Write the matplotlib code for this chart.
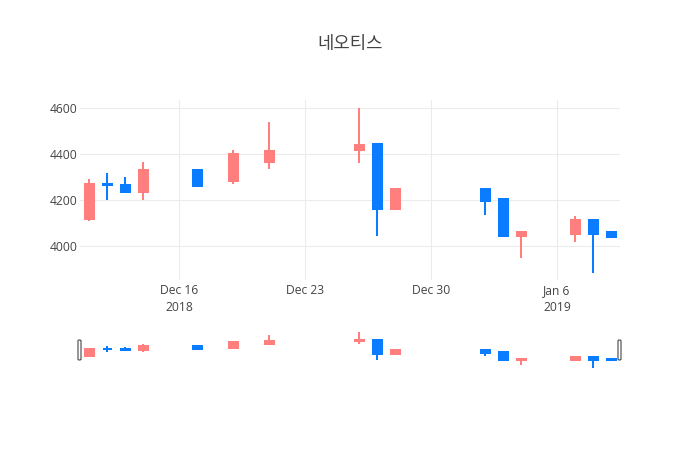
import matplotlib
matplotlib.use("Agg")
import matplotlib.pyplot as plt
import matplotlib.dates as mdates
from matplotlib.patches import FancyBboxPatch
import numpy as np
import pandas as pd

# ---- data ----
dates = ['2018-12-11', '2018-12-12', '2018-12-13', '2018-12-14', '2018-12-17',
         '2018-12-19', '2018-12-21', '2018-12-26', '2018-12-27', '2018-12-28',
         '2019-01-02', '2019-01-03', '2019-01-04', '2019-01-07', '2019-01-08',
         '2019-01-09']
opens = [4120, 4270, 4265, 4235, 4330, 4285, 4365, 4420, 4445, 4160,
         4250, 4205, 4045, 4055, 4115, 4060]
highs = [4290, 4320, 4300, 4365, 4330, 4420, 4540, 4600, 4445, 4255,
         4250, 4205, 4060, 4130, 4115, 4060]
lows = [4110, 4200, 4235, 4200, 4260, 4270, 4335, 4360, 4045, 4160,
        4135, 4045, 3950, 4020, 3885, 4040]
closes = [4270, 4265, 4235, 4330, 4260, 4400, 4415, 4440, 4160, 4250,
          4195, 4045, 4060, 4115, 4055, 4040]
title = "네오티스"
tick_dates = ['2018-12-16', '2018-12-23', '2018-12-30', '2019-01-06']
tick_labels = ['Dec 16\n2018', 'Dec 23', 'Dec 30', 'Jan 6\n2019']

UP = '#FF7F7F'
DOWN = '#0A7CFF'
TXT = '#444444'
GRID = '#EBEBEB'

x = mdates.date2num(pd.to_datetime(dates))
o = np.array(opens, float)
h = np.array(highs, float)
l = np.array(lows, float)
c = np.array(closes, float)
cols = [UP if cc >= oo else DOWN for oo, cc in zip(o, c)]

W, H = 700, 450
fig = plt.figure(figsize=(7, 4.5), dpi=100)
fig.patch.set_facecolor('white')

def px_axes(left, top, right, bottom):
    return fig.add_axes([left / W, 1 - bottom / H, (right - left) / W, (bottom - top) / H])

ax = px_axes(80, 100, 620, 280)
axs = px_axes(80, 330, 620, 370)

span = h.max() - l.min()
ylo, yhi = l.min() - 0.045 * span, h.max() + 0.05 * span
xlo, xhi = x[0] - 0.5, x[-1] + 0.5

def draw(a, lw_wick, lw_edge):
    a.vlines(x, l, h, colors=cols, linewidth=lw_wick, zorder=2)
    a.bar(x, c - o, bottom=o, width=0.5, color=cols, edgecolor=cols,
          linewidth=lw_edge, zorder=3)

draw(ax, 1.45, 1.45)
draw(axs, 1.45, 1.45)

for a in (ax, axs):
    a.set_xlim(xlo, xhi)
    a.set_ylim(ylo, yhi)
    for s in a.spines.values():
        s.set_visible(False)

# main axis styling
tx = mdates.date2num(pd.to_datetime(tick_dates))
ax.set_xticks(tx)
ax.set_xticklabels(tick_labels, fontsize=8.7, color=TXT, family='Open Sans',
                   linespacing=1.4)
ax.set_yticks([4000, 4200, 4400, 4600])
ax.set_yticklabels(['4000', '4200', '4400', '4600'], fontsize=8.7, color=TXT,
                   family='Open Sans')
ax.tick_params(axis='both', length=0)
ax.tick_params(axis='x', pad=3)
ax.tick_params(axis='y', pad=2)
ax.grid(True, color=GRID, linewidth=0.75, zorder=0)
ax.set_axisbelow(True)

axs.set_xticks([])
axs.set_yticks([])
axs.set_facecolor('white')

# range slider handles
for hx in (78, 618):
    p = FancyBboxPatch((hx / W, 1 - 360 / H), 3 / W, 20 / H,
                       boxstyle='round,pad=0,rounding_size=0.002',
                       transform=fig.transFigure, facecolor='white',
                       edgecolor='#444444', linewidth=0.8)
    fig.patches.append(p)

fig.text(350 / W, 1 - 44 / H, title, ha='center', va='center', fontsize=12.8,
         color=TXT, family=['Noto Sans CJK KR', 'DejaVu Sans'])

fig.savefig('out.png', dpi=100, facecolor='white')
